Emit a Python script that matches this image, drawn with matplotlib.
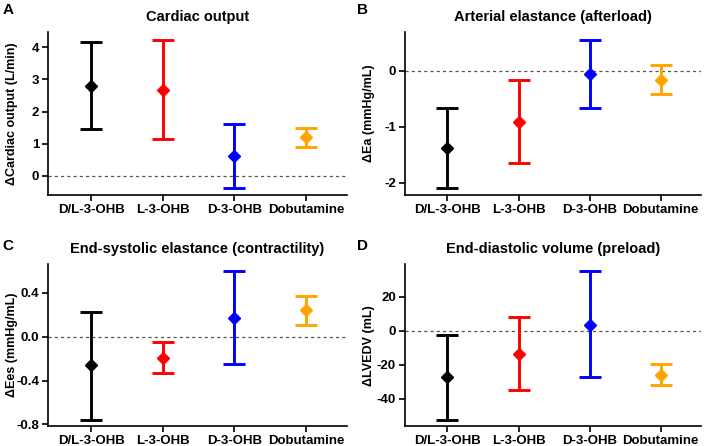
import numpy as np
import matplotlib.pyplot as plt

plt.rcParams['font.family'] = ['Liberation Sans', 'DejaVu Sans']
plt.rcParams['font.weight'] = 'bold'
plt.rcParams['axes.unicode_minus'] = False

# datos
groups = ['D/L-3-OHB', 'L-3-OHB', 'D-3-OHB', 'Dobutamine']
colors = ['black', '#ff0000', '#0000ff', '#ffa500']

co_mean = [2.80, 2.68, 0.62, 1.20]
co_low = [1.45, 1.15, -0.36, 0.90]
co_high = [4.17, 4.22, 1.60, 1.50]

ea_mean = [-1.38, -0.91, -0.06, -0.16]
ea_low = [-2.10, -1.65, -0.67, -0.42]
ea_high = [-0.66, -0.17, 0.55, 0.10]

ees_mean = [-0.26, -0.19, 0.17, 0.24]
ees_low = [-0.76, -0.33, -0.25, 0.11]
ees_high = [0.23, -0.05, 0.60, 0.37]

edv_mean = [-27.5, -13.5, 3.5, -26.0]
edv_low = [-52.5, -35.0, -27.5, -32.0]
edv_high = [-2.5, 8.0, 35.0, -19.5]

panels = [
    ('A', 'Cardiac output', 'ΔCardiac output (L/min)', co_mean, co_low, co_high,
     (-0.59, 4.47), [0, 1, 2, 3, 4], ['0', '1', '2', '3', '4']),
    ('B', 'Arterial elastance (afterload)', 'ΔEa (mmHg/mL)', ea_mean, ea_low, ea_high,
     (-2.22, 0.69), [-2, -1, 0], ['-2', '-1', '0']),
    ('C', 'End-systolic elastance (contractility)', 'ΔEes (mmHg/mL)', ees_mean, ees_low, ees_high,
     (-0.815, 0.66), [-0.8, -0.4, 0.0, 0.4], ['-0.8', '-0.4', '0.0', '0.4']),
    ('D', 'End-diastolic volume (preload)', 'ΔLVEDV (mL)', edv_mean, edv_low, edv_high,
     (-56, 39), [-40, -20, 0, 20], ['-40', '-20', '0', '20']),
]

# posiciones de los ejes y de las letras (fraccion de figura)
boxes = [
    [0.068, 0.563, 0.421, 0.365],
    [0.571, 0.563, 0.418, 0.365],
    [0.068, 0.045, 0.421, 0.362],
    [0.571, 0.045, 0.418, 0.362],
]
letter_xy = [(0.004, 0.977), (0.504, 0.977), (0.004, 0.448), (0.504, 0.448)]

fig = plt.figure(figsize=(7.09, 4.46), dpi=100)

for box, lxy, (letter, title, ylabel, mean, low, high, ylim, yt, ytl) in zip(boxes, letter_xy, panels):
    ax = fig.add_axes(box)
    x = np.arange(len(groups))
    ax.axhline(0, color='#555555', lw=0.9, ls=(0, (2.5, 2.5)), zorder=1)
    for i in range(len(groups)):
        err = [[mean[i] - low[i]], [high[i] - mean[i]]]
        ax.errorbar(x[i], mean[i], yerr=err, fmt='D', color=colors[i], ms=6.5,
                    elinewidth=2.1, capsize=8, capthick=2.1, zorder=3)
    ax.set_xlim(-0.6, 3.57)
    ax.set_ylim(*ylim)
    ax.set_xticks(x)
    ax.set_xticklabels(groups, fontsize=9.5, fontweight='bold')
    ax.set_yticks(yt)
    ax.set_yticklabels(ytl, fontsize=9.5, fontweight='bold')
    ax.set_ylabel(ylabel, fontsize=9, fontweight='bold')
    ax.yaxis.set_label_coords(-0.10, 0.5)
    ax.set_title(title, fontsize=10.5, fontweight='bold', pad=8)
    ax.spines['top'].set_visible(False)
    ax.spines['right'].set_visible(False)
    ax.spines['left'].set_linewidth(1.2)
    ax.spines['bottom'].set_linewidth(1.2)
    ax.tick_params(width=1.2, length=4, pad=2.5)
    fig.text(lxy[0], lxy[1], letter, fontsize=11, fontweight='bold', va='center', ha='left')

fig.savefig('out.png', dpi=100)
